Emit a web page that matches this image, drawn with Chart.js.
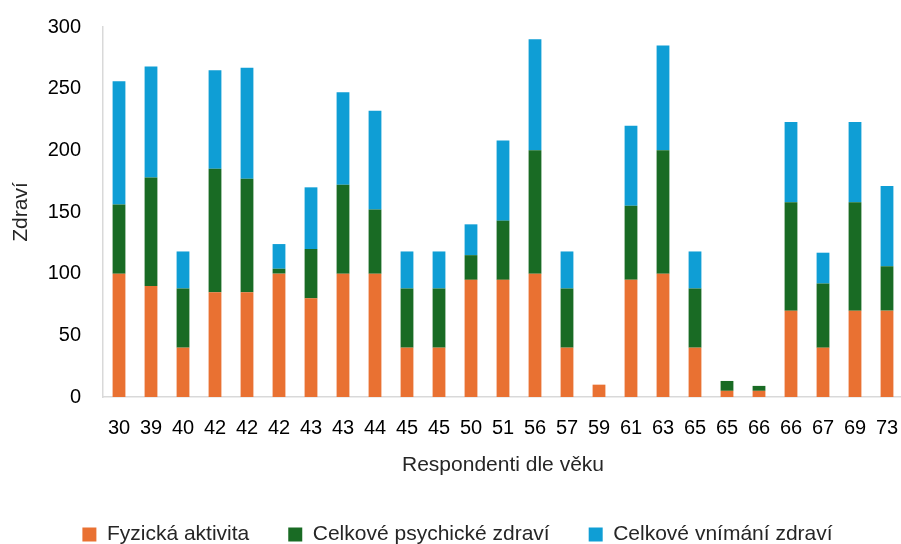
<!DOCTYPE html>
<html lang="cs">
<head>
<meta charset="utf-8">
<title>Zdraví podle věku respondentů</title>
<script src="https://cdn.jsdelivr.net/npm/chart.js@4"></script>
<style>
  html, body { margin: 0; padding: 0; background: #ffffff; overflow: hidden; }
  #wrap { position: absolute; left: 0; top: 0; width: 903px; height: 560px; }
</style>
</head>
<body>
<div id="wrap"><canvas id="chart"></canvas></div>
<script>
// Respondents (age of each respondent)
const categories = ['30','39','40','42','42','42','43','43','44','45','45','50','51','56','57','59','61','63','65','65','66','66','67','69','73'];

// Stacked components of health score
const fyzickaAktivita   = [100, 90, 40, 85, 85, 100, 80, 100, 100, 40, 40, 95, 95, 100, 40, 10, 95, 100, 40, 5, 5, 70, 40, 70, 70];
const psychickeZdravi   = [56, 88, 48, 100, 92, 4, 40, 72, 52, 48, 48, 20, 48, 100, 48, 0, 60, 100, 48, 8, 4, 88, 52, 88, 36];
const vnimaniZdravi     = [100, 90, 30, 80, 90, 20, 50, 75, 80, 30, 30, 25, 65, 90, 30, 0, 65, 85, 30, 0, 0, 65, 25, 65, 65];

const seriesNames = ['Fyzická aktivita', 'Celkové psychické zdraví', 'Celkové vnímání zdraví'];
const yTicks = [0, 50, 100, 150, 200, 250, 300];

const tickFont  = { family: '"Liberation Sans", Arial, sans-serif', size: 20 };
const titleFont = { family: '"Liberation Sans", Arial, sans-serif', size: 21 };

// Nudges the legend row slightly to the right of the canvas centre
const legendShift = {
  id: 'legendShift',
  afterLayout(chart) {
    const lg = chart.legend;
    if (lg) { lg.left += 6; lg.right += 6; }
  }
};

new Chart(document.getElementById('chart'), {
  type: 'bar',
  data: {
    labels: categories,
    datasets: [
      { label: seriesNames[0], data: fyzickaAktivita, backgroundColor: '#E97132' },
      { label: seriesNames[1], data: psychickeZdravi, backgroundColor: '#196B24' },
      { label: seriesNames[2], data: vnimaniZdravi,   backgroundColor: '#0F9ED5' }
    ]
  },
  plugins: [legendShift],
  options: {
    responsive: true,
    maintainAspectRatio: false,
    animation: false,
    datasets: { bar: { categoryPercentage: 1.0, barPercentage: 0.4 } },
    layout: { padding: { top: 27, right: 0, bottom: 5, left: 0 } },
    plugins: {
      tooltip: { enabled: false },
      legend: {
        position: 'bottom',
        labels: {
          font: titleFont,
          color: '#262626',
          boxWidth: 14,
          boxHeight: 14,
          padding: 39
        }
      }
    },
    scales: {
      x: {
        stacked: true,
        grid: { display: false, drawTicks: false },
        border: { display: true, color: '#d9d9d9', width: 1.5 },
        ticks: { font: tickFont, color: '#000000', padding: 19, maxRotation: 0, autoSkip: false },
        title: { display: true, text: 'Respondenti dle věku', font: titleFont, color: '#262626', padding: { top: 0, bottom: 7 } },
        afterFit(scale) {
          scale.height = 88;
          scale.paddingLeft = 0;
          scale.paddingRight = 0;
        }
      },
      y: {
        stacked: true,
        min: yTicks[0],
        max: yTicks[yTicks.length - 1],
        afterBuildTicks(scale) { scale.ticks = yTicks.map(v => ({ value: v })); },
        grid: { display: false, drawTicks: false },
        border: { display: true, color: '#d9d9d9', width: 1.5 },
        ticks: { font: tickFont, color: '#000000', padding: 22 },
        title: { display: true, text: 'Zdraví', font: titleFont, color: '#262626', padding: { top: 9, bottom: 0 } },
        afterFit(scale) {
          scale.width = 103;
          scale.paddingTop = 0;
          scale.paddingBottom = 0;
        }
      }
    }
  }
});
</script>
</body>
</html>
